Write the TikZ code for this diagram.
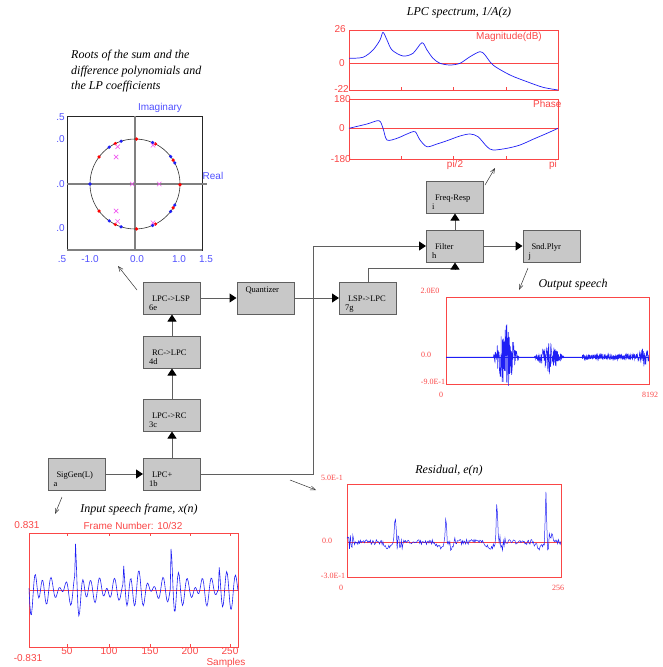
\documentclass[tikz,border=0pt]{standalone}
\usepackage{fontspec}
\setmainfont{Liberation Serif}
\newfontfamily\arialf{Liberation Sans}
\usetikzlibrary{arrows.meta,positioning,calc}
\definecolor{plotred}{RGB}{250,70,70}
\definecolor{sigblue}{RGB}{30,30,245}
\definecolor{axblue}{RGB}{80,80,255}
\definecolor{rootmag}{RGB}{240,90,240}
\definecolor{blockgray}{RGB}{200,200,200}
\definecolor{wiregray}{RGB}{95,95,95}

\begin{document}
\begin{tikzpicture}[x=1pt, y=-1pt,
    declare function={tri(\a,\b,\w)=max(0,1-abs(\a-\b)/\w);},
    block/.style={rectangle, draw=wiregray, line width=1pt, fill=blockgray, minimum width=57pt, minimum height=32pt,
        text width=46pt, inner xsep=5.5pt, inner ysep=0pt, text height=19pt, text depth=13pt, align=left,
        font=\fontsize{8.5}{9}\selectfont},
    wire/.style={draw=wiregray, line width=1pt, -{Triangle[length=7pt,width=9pt,color=black]}},
    ptr/.style={draw=black!80, line width=0.5pt, -{Straight Barb[length=5pt,width=4pt]}},
    ttl/.style={font=\fontsize{12}{15.5}\selectfont\itshape, inner sep=0pt},
    rlab/.style={text=plotred, font=\arialf\fontsize{10}{12}\selectfont, inner sep=0pt},
    slab/.style={text=plotred, font=\fontsize{8}{9}\selectfont, inner sep=0pt},
    blab/.style={text=axblue, font=\arialf\fontsize{10}{12}\selectfont, inner sep=0pt},
    frame/.style={draw=plotred, line width=0.9pt},
    sig/.style={draw=sigblue, line width=0.5pt}
]
\useasboundingbox (0,0) rectangle (662,667);

% processing blocks
\node[block] (sig) at (76.5,474) {\hspace*{3pt}SigGen(L)\\a};
\node[block] (lpcp) at (172,474) {\hspace*{3pt}LPC+\\1b};
\node[block] (lpcrc) at (172,415) {\hspace*{3pt}LPC->RC\\3c};
\node[block] (rclpc) at (172,352) {\hspace*{3pt}RC->LPC\\4d};
\node[block] (lpclsp) at (172,298) {\hspace*{3pt}LPC->LSP\\6e};
\node[block, text height=10pt, text depth=22pt] (quant) at (265.5,298) {\hspace*{3pt}Quantizer};
\node[block] (lsplpc) at (368,298) {\hspace*{3pt}LSP->LPC\\7g};
\node[block] (filter) at (455,246) {\hspace*{3pt}Filter\\h};
\node[block] (freq) at (455,197) {\hspace*{3pt}Freq-Resp\\i};
\node[block] (snd) at (551.5,246) {\hspace*{3pt}Snd.Plyr\\j};

\draw[wire] (sig) -- (lpcp);
\draw[wire] (lpcp) -- (lpcrc);
\draw[wire] (lpcrc) -- (rclpc);
\draw[wire] (rclpc) -- (lpclsp);
\draw[wire] (lpclsp) -- (quant);
\draw[wire] (quant) -- (lsplpc);
\coordinate (tap) at (313,474);
\draw[wire] (lpcp.east) -- (tap) |- (filter.west);
\draw[wire] (lsplpc.north) -- ++(0,-13) -| (filter.south);
\draw[wire] (filter) -- (freq);
\draw[wire] (filter) -- (snd);

% pointers to the plots
\coordinate (p6e) at (137,290);  \coordinate (p6etip) at (118,266);
\coordinate (pi) at (485,185);   \coordinate (pitip) at (495,168);
\coordinate (pj) at (528,268);   \coordinate (pjtip) at (519,290);
\coordinate (pa) at (62,497);    \coordinate (patip) at (55,514);
\coordinate (pb) at (290,480);   \coordinate (pbtip) at (316,490);
\draw[ptr] (p6e) -- (p6etip);
\draw[ptr] (pi) -- (pitip);
\draw[ptr] (pj) -- (pjtip);
\draw[ptr] (pa) -- (patip);
\draw[ptr] (pb) -- (pbtip);

% roots plot
\node[ttl, anchor=north west, align=left] (rootttl) at (71,50) {Roots of the sum and the\\difference polynomials and\\the LP coefficients};
\draw[black!85, line width=0.7pt] (67,116) rectangle (202,250);
\draw[gray, line width=1.4pt] (67,184) -- (207,184);
\draw[gray, line width=1.4pt] (135,116) -- (135,250);
\draw[gray, line width=1.4pt] (67,250) -- (202,250);
\draw[black!80, line width=0.6pt] (135,184) circle[radius=45];
\foreach \a in {108,125,67,37.6,28,-108,-125,-67,-37.6,-28,180}
  \fill[sigblue] (135,184) ++(\a:45) circle[radius=1.8];
\foreach \a in {88,116,63,143,32,-88,-116,-63,-143,-32,1}
  \fill[red] (135,184) ++(\a:45) circle[radius=1.8];
\foreach \u/\v in {-0.385/0.83,-0.42/0.6,0.4/0.86,-0.06/0,0.54/0,-0.42/-0.6,-0.385/-0.83,0.4/-0.86}
  \draw[rootmag, line width=0.6pt, shift={(135+45*\u,184-45*\v)}] (-2.2,-2.2) -- (2.2,2.2) (-2.2,2.2) -- (2.2,-2.2);
\node[blab] (imag) at (160,108) {Imaginary};
\node[blab] (real) at (213,176) {Real};
\foreach \yy/\t in {117/.5,139/.0,184/.0,228/.0}
  \node[blab, anchor=east] at (65,\yy) {\t};
\foreach \xx/\t in {62/.5,90/-1.0,137/0.0,179/1.0,206/1.5}
  \node[blab] at (\xx,259) {\t};

% LPC spectrum
\node[ttl] (specttl) at (459,13) {LPC spectrum, 1/A(z)};
\draw[frame] (349,30) rectangle (558,90);
\draw[frame] (349,99) rectangle (558,159);
\draw[plotred, line width=0.9pt] (349,63) -- (558,63);
\draw[plotred, line width=0.9pt] (349,128) -- (558,128);
\foreach \xx in {401,453.5,506} {
  \draw[plotred, line width=0.6pt] (\xx,90) -- ++(0,-3) (\xx,159) -- ++(0,-3);
}
\node[rlab, anchor=east] at (346,29) {26};
\node[rlab, anchor=east] at (345,63) {0};
\node[rlab, anchor=east] at (349,89) {-22};
\node[rlab, anchor=east] at (351,99) {180};
\node[rlab, anchor=east] at (345,128) {0};
\node[rlab, anchor=east] at (351,159) {-180};
\node[rlab] (magn) at (509,37) {Magnitude(dB)};
\node[rlab, anchor=west] (phs) at (533,104) {Phase};
\node[rlab] at (455,165) {pi/2};
\node[rlab] at (553,165) {pi};
\draw[sig, line width=0.7pt] plot[smooth, tension=0.5] coordinates {(349,58.3) (363,57.3) (373,50) (380,40) (383,32.3) (387,40) (392,50) (403,56) (413,53.3) (422,42.7) (427,50) (433,58.3) (440,63.3) (450,65) (460,63.3) (470,56.7) (480,51.7) (485,55) (493,65) (510,75) (527,81.7) (543,87.3) (558,90)};
\draw[sig, line width=0.7pt] plot[smooth, tension=0.5] coordinates {(349,128.3) (367,124) (379,120.7) (383,128.3) (387,140) (397,138.3) (407,134) (415,131.7) (420,140) (427,146.7) (437,144) (447,140.7) (460,136) (470,134) (478,136.7) (487,146.7) (493,150) (507,148.3) (520,145) (533,139.3) (547,133.3) (558,128.3)};

% output speech
\node[ttl] (outttl) at (573,285) {Output speech};
\draw[frame] (446,297) rectangle (649,384);
\node[slab] at (430,291) {2.0E0};
\node[slab] at (426,355) {0.0};
\node[slab] at (433,382) {-9.0E-1};
\node[slab] at (441,395) {0};
\node[slab] at (650,395) {8192};
\pgfmathsetseed{11}
\draw[sig] (446,357) -- (649,357);
\draw[sig] plot[domain=446:649, samples=900] (\x, {357 - (36*tri(\x,506,13) + 16*tri(\x,549,15) + 2.5*(\x>582) + 7*tri(\x,644,7))*rand});

% input speech frame
\node[ttl] (inttl) at (139,510) {Input speech frame, x(n)};
\draw[frame] (29,533) rectangle (238,647);
\draw[plotred, line width=1pt] (29,590) -- (238,590);
\foreach \xx/\t in {67/50,109/100,150/150,190/200,230/250} {
  \draw[plotred, line width=0.6pt] (\xx,533) -- ++(0,3) (\xx,647) -- ++(0,-3);
  \node[rlab] at (\xx,651) {\t};
}
\node[rlab] at (27,525) {0.831};
\node[rlab] at (28,658) {-0.831};
\node[rlab] (frameno) at (133,526) {Frame Number: 10/32};
\node[rlab] (samples) at (226,662.5) {Samples};
\draw[sig, line width=0.6pt] plot[domain=29:238, samples=257] (\x, {590 - (1+0.25*sin(11*\x))*((7+30*exp(-mod(\x-27,48)/7))*cos(45*mod(\x-27,48)) + 6*sin(29*\x+40))});

% residual
\node[ttl] (resttl) at (449,471) {Residual, e(n)};
\draw[frame] (347,484) rectangle (561,577);
\draw[plotred, line width=1pt] (347,542) -- (561,542);
\node[slab] at (332,478) {5.0E-1};
\node[slab] at (327,541) {0.0};
\node[slab] at (333,576) {-3.0E-1};
\node[slab] at (341,588) {0};
\node[slab] at (558,588) {256};
\pgfmathsetseed{5}
\draw[sig] plot[domain=347:561, samples=257] (\x, {542 - ((2.5+9*(tri(\x,399,6)+tri(\x,450,6)+tri(\x,501,6)+tri(\x,550,6)+tri(\x,351,4)))*rand + 32*tri(\x,395,1.6)+30*tri(\x,446,1.6)+48*tri(\x,497,1.6)+48*tri(\x,546,1.6)+10*tri(\x,348,1.6) - 6*(tri(\x,389,8)+tri(\x,440,8)+tri(\x,491,8)+tri(\x,540,8)))});
\end{tikzpicture}
\end{document}
